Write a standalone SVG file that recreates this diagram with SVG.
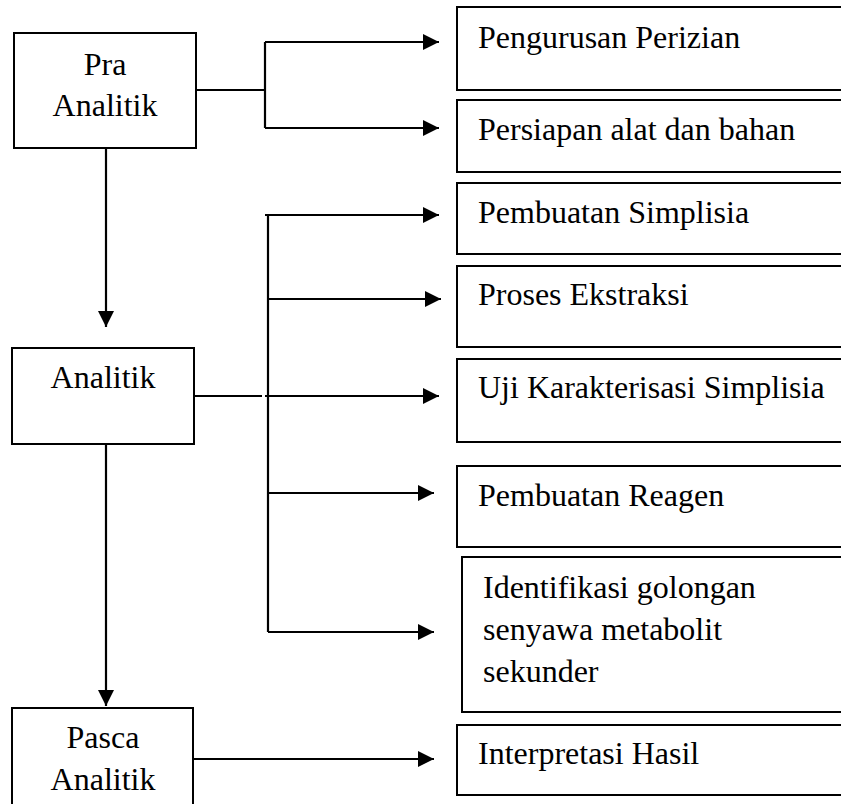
<svg xmlns="http://www.w3.org/2000/svg" width="841" height="804" viewBox="0 0 841 804">
<style>
.box{fill:#fff;stroke:#000;stroke-width:2}
.t{font-family:"Liberation Serif","Times New Roman",serif;font-size:32px;fill:#000}
.c{text-anchor:middle}
.ln{fill:none;stroke:#000;stroke-width:2.2}
</style>
<defs>
<marker id="ah" viewBox="0 0 16 16" refX="16" refY="8" markerWidth="16" markerHeight="16" markerUnits="userSpaceOnUse" orient="auto">
<path d="M0,0 L16,8 L0,16 z" fill="#000"/>
</marker>
</defs>
<rect width="841" height="804" fill="#fff"/>
<g id="pra">
<rect class="box" x="14" y="33" width="182" height="115"/>
<text class="t c" x="105" y="75">Pra</text>
<text class="t c" x="105" y="116">Analitik</text>
</g>
<g id="analitik">
<rect class="box" x="12" y="348" width="182" height="96"/>
<text class="t c" x="103" y="388">Analitik</text>
</g>
<g id="pasca">
<rect class="box" x="12" y="708" width="181" height="110"/>
<text class="t c" x="103" y="748">Pasca</text>
<text class="t c" x="103" y="790">Analitik</text>
</g>
<g id="perizian">
<rect class="box" x="457" y="7" width="400" height="83"/>
<text class="t" x="478" y="48">Pengurusan Perizian</text>
</g>
<g id="persiapan">
<rect class="box" x="457" y="100" width="400" height="72"/>
<text class="t" x="478" y="140">Persiapan alat dan bahan</text>
</g>
<g id="simplisia">
<rect class="box" x="457" y="183" width="400" height="71"/>
<text class="t" x="478" y="223">Pembuatan Simplisia</text>
</g>
<g id="ekstraksi">
<rect class="box" x="457" y="266" width="400" height="81"/>
<text class="t" x="478" y="305">Proses Ekstraksi</text>
</g>
<g id="karakterisasi">
<rect class="box" x="457" y="359" width="400" height="83"/>
<text class="t" x="478" y="398">Uji Karakterisasi Simplisia</text>
</g>
<g id="reagen">
<rect class="box" x="457" y="466" width="400" height="81"/>
<text class="t" x="478" y="506">Pembuatan Reagen</text>
</g>
<g id="identifikasi">
<rect class="box" x="462" y="557" width="400" height="155"/>
<text class="t" x="483" y="598">Identifikasi golongan</text>
<text class="t" x="483" y="640">senyawa metabolit</text>
<text class="t" x="483" y="682">sekunder</text>
</g>
<g id="interpretasi">
<rect class="box" x="457" y="725" width="400" height="70"/>
<text class="t" x="478" y="764">Interpretasi Hasil</text>
</g>
<g id="connectors">
<path class="ln" d="M196,90 H265 M265,42 V128"/>
<path class="ln" d="M265,42 H439" marker-end="url(#ah)"/>
<path class="ln" d="M265,128 H439" marker-end="url(#ah)"/>
<path class="ln" d="M106,148 V327" marker-end="url(#ah)"/>
<path class="ln" d="M268,215 V632"/>
<path class="ln" d="M265,215 H439" marker-end="url(#ah)"/>
<path class="ln" d="M268,299 H441" marker-end="url(#ah)"/>
<path class="ln" d="M194,396 H262"/>
<path class="ln" d="M265,396 H439" marker-end="url(#ah)"/>
<path class="ln" d="M268,493 H434" marker-end="url(#ah)"/>
<path class="ln" d="M268,632 H434" marker-end="url(#ah)"/>
<path class="ln" d="M106,444 V706" marker-end="url(#ah)"/>
<path class="ln" d="M193,759 H434" marker-end="url(#ah)"/>
</g>
</svg>
